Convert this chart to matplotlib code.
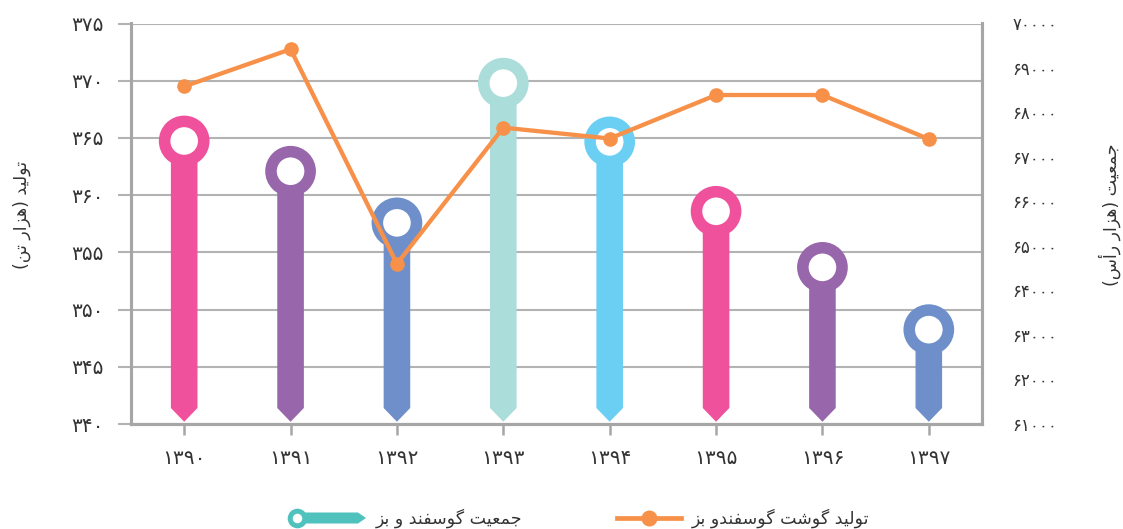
import matplotlib
matplotlib.use("Agg")
import matplotlib.pyplot as plt
from matplotlib.patches import Polygon
from matplotlib.lines import Line2D

# ---------------- data ----------------
years = ["1390", "1391", "1392", "1393", "1394", "1395", "1396", "1397"]
population = [67360, 66680, 65520, 68660, 67340, 65780, 64520, 63120]   # thousand heads (right axis)
production = [369.5, 372.75, 354.0, 365.9, 364.95, 368.75, 368.75, 364.9]  # thousand tons (left axis)
left_ticks = [340, 345, 350, 355, 360, 365, 370, 375]
right_ticks = [61000, 62000, 63000, 64000, 65000, 66000, 67000, 68000, 69000, 70000]
bar_colors = ["#EF519C", "#9866AA", "#6F8FCA", "#ABDDDB", "#6BCFF4", "#EF519C", "#9866AA", "#6F8FCA"]
line_color = "#F79149"
legend_teal = "#4FC2BD"
grid_color = "#B3B3B3"
spine_color = "#A6A6A6"
text_color = "#333333"

left_label = "تولید (هزار تن)"
right_label = "جمعیت (هزار رأس)"
line_name = "تولید گوشت گوسفندو بز"
bar_name = "جمعیت گوسفند و بز"

# ---------------- minimal Arabic/Persian shaping ----------------
FORMS = {
    'ا': ('\uFE8D', '\uFE8E', None, None), 'آ': ('\uFE81', '\uFE82', None, None),
    'أ': ('\uFE83', '\uFE84', None, None), 'د': ('\uFEA9', '\uFEAA', None, None),
    'ذ': ('\uFEAB', '\uFEAC', None, None), 'ر': ('\uFEAD', '\uFEAE', None, None),
    'ز': ('\uFEAF', '\uFEB0', None, None), 'ژ': ('\uFB8A', '\uFB8B', None, None),
    'و': ('\uFEED', '\uFEEE', None, None),
    'ب': ('\uFE8F', '\uFE90', '\uFE91', '\uFE92'), 'پ': ('\uFB56', '\uFB57', '\uFB58', '\uFB59'),
    'ت': ('\uFE95', '\uFE96', '\uFE97', '\uFE98'), 'ث': ('\uFE99', '\uFE9A', '\uFE9B', '\uFE9C'),
    'ج': ('\uFE9D', '\uFE9E', '\uFE9F', '\uFEA0'), 'چ': ('\uFB7A', '\uFB7B', '\uFB7C', '\uFB7D'),
    'ح': ('\uFEA1', '\uFEA2', '\uFEA3', '\uFEA4'), 'خ': ('\uFEA5', '\uFEA6', '\uFEA7', '\uFEA8'),
    'س': ('\uFEB1', '\uFEB2', '\uFEB3', '\uFEB4'), 'ش': ('\uFEB5', '\uFEB6', '\uFEB7', '\uFEB8'),
    'ع': ('\uFEC9', '\uFECA', '\uFECB', '\uFECC'), 'غ': ('\uFECD', '\uFECE', '\uFECF', '\uFED0'),
    'ف': ('\uFED1', '\uFED2', '\uFED3', '\uFED4'), 'ق': ('\uFED5', '\uFED6', '\uFED7', '\uFED8'),
    'ک': ('\uFB8E', '\uFB8F', '\uFB90', '\uFB91'), 'گ': ('\uFB92', '\uFB93', '\uFB94', '\uFB95'),
    'ل': ('\uFEDD', '\uFEDE', '\uFEDF', '\uFEE0'), 'م': ('\uFEE1', '\uFEE2', '\uFEE3', '\uFEE4'),
    'ن': ('\uFEE5', '\uFEE6', '\uFEE7', '\uFEE8'), 'ه': ('\uFEE9', '\uFEEA', '\uFEEB', '\uFEEC'),
    'ی': ('\uFBFC', '\uFBFD', '\uFBFE', '\uFBFF'), 'ي': ('\uFEF1', '\uFEF2', '\uFEF3', '\uFEF4'),
}


def _dual(c):
    return c in FORMS and FORMS[c][2] is not None


def shape(text):
    out = []
    n = len(text)
    for i, c in enumerate(text):
        if c not in FORMS:
            out.append(c)
            continue
        prev_c = text[i - 1] if i > 0 else ''
        next_c = text[i + 1] if i < n - 1 else ''
        join_prev = _dual(prev_c)
        join_next = _dual(c) and next_c in FORMS
        iso, fin, ini, med = FORMS[c]
        if join_prev and join_next:
            out.append(med)
        elif join_prev:
            out.append(fin)
        elif join_next:
            out.append(ini)
        else:
            out.append(iso)
    vis = ''.join(reversed(out))
    return vis.translate(str.maketrans({'(': ')', ')': '('}))


FA_DIGITS = str.maketrans('0123456789', '۰۱۲۳۴۵۶۷۸۹')


def fa(s):
    return str(s).translate(FA_DIGITS)


# ---------------- figure ----------------
plt.rcParams['font.family'] = ['DejaVu Sans']
W, H = 1123, 529
fig = plt.figure(figsize=(W / 100, H / 100), dpi=100)
L, R, T, B = 131, 982, 23.5, 424
ax = fig.add_axes([L / W, 1 - B / H, (R - L) / W, (B - T) / H])
ax2 = ax.twinx()

x = list(range(len(years)))

# left axis (production)
ax.set_xlim(-0.5, len(years) - 0.5)
ax.set_ylim(left_ticks[0], left_ticks[-1])
ax.set_yticks(left_ticks)
ax.set_yticklabels([fa(v) for v in left_ticks], fontsize=14.5, color=text_color)
ax.grid(axis='y', color=grid_color, linewidth=1.5)
ax.set_axisbelow(True)
ax.tick_params(axis='y', length=9.5, width=1.5, color=grid_color, pad=10)
ax.set_xticks(x)
ax.set_xticklabels([fa(y) for y in years], fontsize=14.5, color=text_color)
ax.tick_params(axis='x', length=8, width=1.8, color=spine_color, pad=10)

# right axis (population)
ax2.set_ylim(right_ticks[0], right_ticks[-1])
ax2.set_yticks(right_ticks)
ax2.set_yticklabels([fa(v) for v in right_ticks], fontsize=12, color=text_color)
ax2.tick_params(axis='y', length=0, pad=22)

for a in (ax, ax2):
    a.spines['top'].set_visible(False)
    for s in ('left', 'right', 'bottom'):
        a.spines[s].set_color(spine_color)
        a.spines[s].set_linewidth(2.2)

# bars with pointed bottom
bw = 0.125
base = right_ticks[0]
tip = base + 50
shoulder = base + 360
for xi, v, c in zip(x, population, bar_colors):
    poly = Polygon([(xi - bw, v), (xi + bw, v), (xi + bw, shoulder), (xi, tip), (xi - bw, shoulder)],
                   closed=True, facecolor=c, edgecolor='none', zorder=2)
    ax2.add_patch(poly)
ax2.scatter(x, population, s=28.2 ** 2, facecolors='white', edgecolors=bar_colors,
            linewidths=8.3, zorder=3)

# production line (on top, in left-axis coordinates)
ax2.plot(x, production, color=line_color, linewidth=3.1, marker='o', markersize=9.5,
         zorder=5, transform=ax.transData, clip_on=False)
ax2.set_ylim(right_ticks[0], right_ticks[-1])

# axis titles
fig.text(22 / W, 1 - 215 / H, shape(left_label), rotation=90, ha='center', va='center',
         fontsize=12.5, color=text_color)
fig.text(1110 / W, 1 - 215 / H, shape(right_label), rotation=90, ha='center', va='center',
         fontsize=12.5, color=text_color)

# legend (manual)
ly = 1 - 518 / H
fig.add_artist(Line2D([617 / W, 681 / W], [ly, ly], color=line_color, linewidth=3.4,
                      transform=fig.transFigure))
fig.add_artist(Line2D([649 / W], [ly], color=line_color, marker='o', markersize=10.5,
                      transform=fig.transFigure))
fig.text(692 / W, ly, shape(line_name), ha='left', va='center', fontsize=12.5, color=text_color)

hb = 5.5 / H
fig.add_artist(Polygon([(297 / W, ly + hb), (358 / W, ly + hb), (366 / W, ly),
                        (358 / W, ly - hb), (297 / W, ly - hb)], closed=True,
                       facecolor=legend_teal, edgecolor='none', transform=fig.transFigure))
fig.add_artist(Line2D([297 / W], [ly], marker='o', markersize=10.5, markerfacecolor='white',
                      markeredgecolor=legend_teal, markeredgewidth=3.6, linestyle='none',
                      transform=fig.transFigure))
fig.text(376 / W, ly, shape(bar_name), ha='left', va='center', fontsize=12.5, color=text_color)

fig.savefig('out.png', dpi=100)
